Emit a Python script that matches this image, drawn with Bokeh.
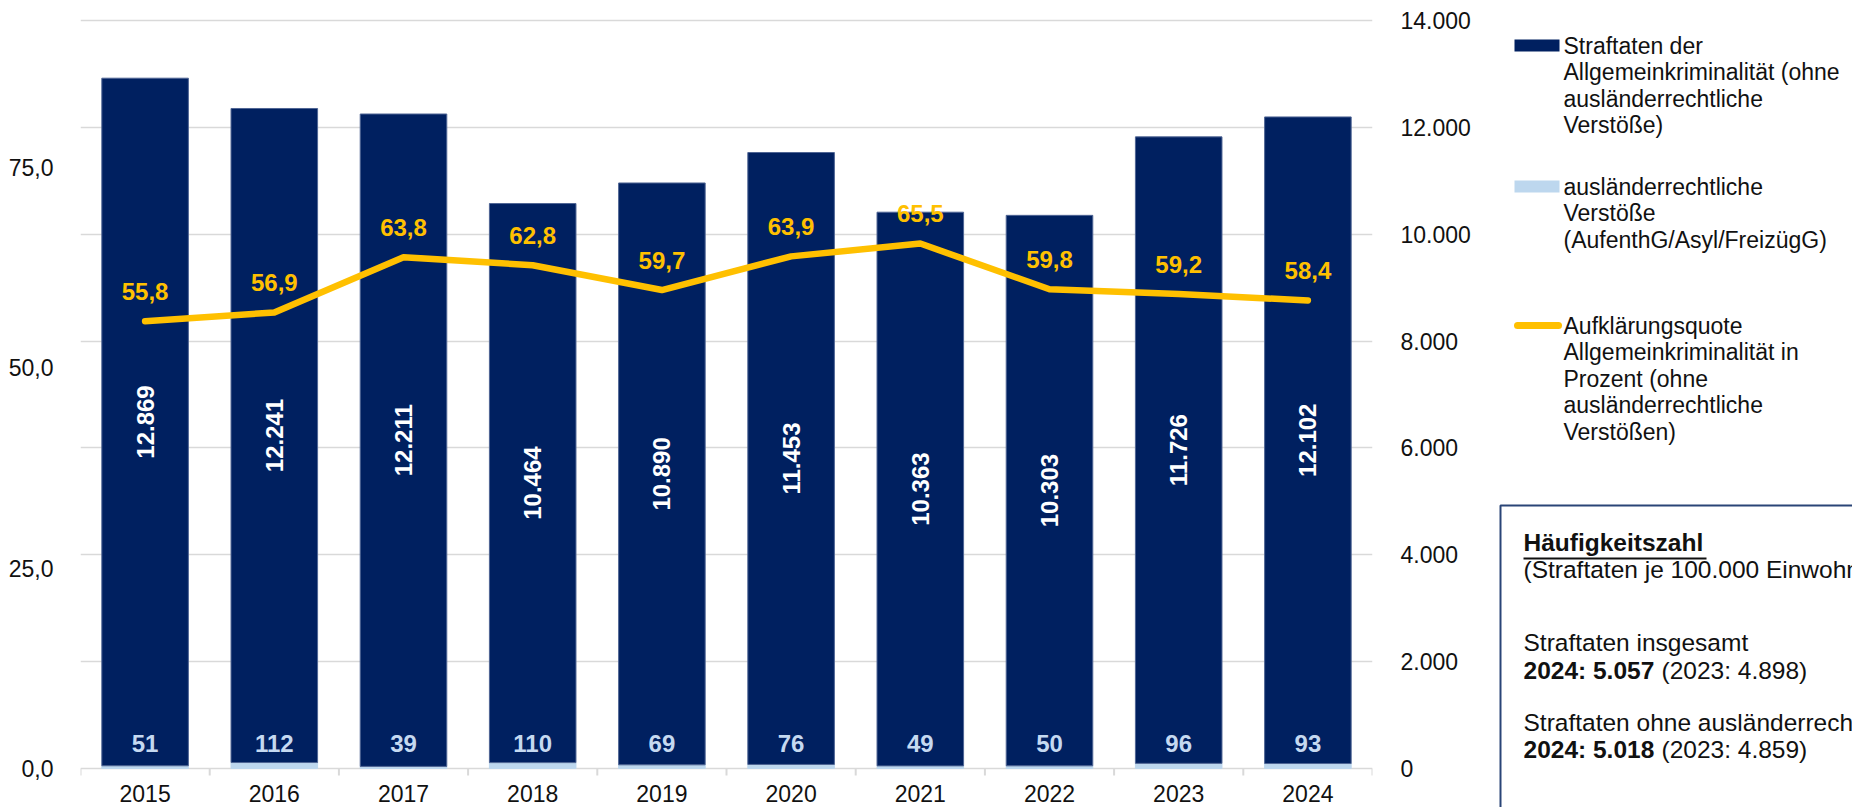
import math
from bokeh.plotting import figure
from bokeh.models import Range1d, LinearAxis, FixedTicker, ColumnDataSource
from bokeh.layouts import row
from bokeh.embed import file_html
from bokeh.resources import INLINE
from bokeh.core.properties import value

# ---------------- data ----------------
years = [2015, 2016, 2017, 2018, 2019, 2020, 2021, 2022, 2023, 2024]
straftaten = [12869, 12241, 12211, 10464, 10890, 11453, 10363, 10303, 11726, 12102]
auslaender = [51, 112, 39, 110, 69, 76, 49, 50, 96, 93]
quote = [55.8, 56.9, 63.8, 62.8, 59.7, 63.9, 65.5, 59.8, 59.2, 58.4]

pct_ticks = [0, 25, 50, 75]
count_ticks = [0, 2000, 4000, 6000, 8000, 10000, 12000, 14000]
count_max = 14000
pct_max = 93.33

legend_1 = ["Straftaten der", "Allgemeinkriminalität (ohne", "ausländerrechtliche", "Verstöße)"]
legend_2 = ["ausländerrechtliche", "Verstöße", "(AufenthG/Asyl/FreizügG)"]
legend_3 = ["Aufklärungsquote", "Allgemeinkriminalität in", "Prozent (ohne",
            "ausländerrechtliche", "Verstößen)"]

box_title = "Häufigkeitszahl"
box_sub = "(Straftaten je 100.000 Einwohner)"
box_l1 = "Straftaten insgesamt"
box_l1_bold = "2024: 5.057"
box_l1_rest = "(2023: 4.898)"
box_l2 = "Straftaten ohne ausländerrechtliche Verstöße"
box_l2_bold = "2024: 5.018"
box_l2_rest = "(2023: 4.859)"

# ---------------- style / layout ----------------
FONT = "Liberation Sans"
NAVY = "#002060"
LIGHT = "#BDD7EE"
LIGHT_TXT = "#C5D9F1"
GOLD = "#FFC000"
GRID = "#D9D9D9"
TXT = "#111111"

W_TOTAL, H_TOTAL = 1852, 807
W1 = 1478                 # chart canvas width
W2 = W_TOTAL - W1         # legend canvas width
FRAME_LEFT, FRAME_RIGHT = 80, 1372
PLOT_TOP, ZERO_Y = 20, 768  # pixel rows of the top gridline and of the value 0

px_per_pct = (ZERO_Y - PLOT_TOP) / pct_max
px_per_cnt = (ZERO_Y - PLOT_TOP) / count_max
pct_range = Range1d(-(H_TOTAL - ZERO_Y) / px_per_pct, pct_max + PLOT_TOP / px_per_pct)
cnt_range = Range1d(-(H_TOTAL - ZERO_Y) / px_per_cnt, count_max + PLOT_TOP / px_per_cnt)


def de_int(v):
    return f"{v:,}".replace(",", ".")


def de_dec(v):
    return f"{v:.1f}".replace(".", ",")


src = ColumnDataSource(dict(
    year=years,
    straf=straftaten,
    aus=auslaender,
    quote=quote,
    straf_mid=[a + s / 2 for a, s in zip(auslaender, straftaten)],
    straf_lbl=[de_int(v) for v in straftaten],
    aus_lbl=[str(v) for v in auslaender],
    quote_lbl=[de_dec(v) for v in quote],
    year_lbl=[str(y) for y in years],
))

bounds = [y - 0.5 for y in years] + [years[-1] + 0.5]

p = figure(width=W1, height=H_TOTAL, title=None,
           x_range=Range1d(years[0] - 0.5, years[-1] + 0.5),
           y_range=pct_range, x_axis_location=None,
           output_backend="svg", toolbar_location=None,
           min_border_left=FRAME_LEFT, min_border_right=W1 - FRAME_RIGHT,
           min_border_top=0, min_border_bottom=0)
p.outline_line_color = None
p.background_fill_color = "white"
p.extra_y_ranges = {"count": cnt_range}

# horizontal grid follows the right (count) axis
for gx in p.xgrid:
    gx.visible = False
g = p.ygrid[0]
g.ticker = FixedTicker(ticks=count_ticks)
g.y_range_name = "count"
g.grid_line_color = GRID
g.grid_line_width = 1.6

# category boundary tick marks below the axis
tick_len = 7 / px_per_cnt
p.segment(x0=bounds, y0=[0] * len(bounds), x1=bounds, y1=[-tick_len] * len(bounds),
          y_range_name="count", line_color=GRID, line_width=2)

# stacked bars
p.vbar_stack(["aus", "straf"], x="year", width=0.67, source=src,
             y_range_name="count",
             fill_color=[LIGHT, NAVY], line_color=[LIGHT, "#4F6594"], line_width=1)

# clearance-rate line
p.line("year", "quote", source=src, line_color=GOLD, line_width=6.5,
       line_cap="round", line_join="round")

# value labels
p.text(x="year", y="straf_mid", text="straf_lbl", source=src, y_range_name="count",
       angle=math.pi / 2, text_align="center", text_baseline="middle",
       text_color="white", text_font=value(FONT), text_font_style="bold",
       text_font_size="24px")
p.text(x="year", y=0, text="aus_lbl", source=src, y_range_name="count",
       y_offset=-25, text_align="center", text_baseline="middle",
       text_color=LIGHT_TXT, text_font=value(FONT), text_font_style="bold",
       text_font_size="24px")
p.text(x="year", y="quote", text="quote_lbl", source=src,
       y_offset=-30, text_align="center", text_baseline="middle",
       text_color=GOLD, text_font=value(FONT), text_font_style="bold",
       text_font_size="24px")

# category (year) labels under the axis
p.text(x="year", y=0, text="year_lbl", source=src, y_range_name="count",
       y_offset=25, text_align="center", text_baseline="middle",
       text_color=TXT, text_font=value(FONT), text_font_size="23px")

# left axis (percent)
ya = p.left[0]
ya.ticker = FixedTicker(ticks=pct_ticks)
ya.major_label_overrides = {t: de_dec(t) for t in pct_ticks}
ya.axis_line_color = None
ya.major_tick_line_color = None
ya.minor_tick_line_color = None
ya.major_label_standoff = 21
ya.major_label_text_font = FONT
ya.major_label_text_font_size = "23px"
ya.major_label_text_color = TXT

# right axis (counts)
ra = LinearAxis(y_range_name="count", ticker=FixedTicker(ticks=count_ticks))
ra.major_label_overrides = {t: de_int(t) for t in count_ticks}
ra.axis_line_color = None
ra.major_tick_line_color = None
ra.minor_tick_line_color = None
ra.major_label_standoff = 22
ra.major_label_text_font = FONT
ra.major_label_text_font_size = "23px"
ra.major_label_text_color = TXT
p.add_layout(ra, "right")

# ---------------- legend + info box (pixel-space figure) ----------------
q = figure(width=W2, height=H_TOTAL, title=None,
           x_range=Range1d(0, W2), y_range=Range1d(H_TOTAL, 0),
           x_axis_location=None, y_axis_location=None,
           output_backend="svg", toolbar_location=None, min_border=0)
q.outline_line_color = None
q.background_fill_color = "white"
for gr in q.grid:
    gr.visible = False

LINE_H = 26.6
TX = 85


def legend_text(lines, y0):
    q.text(x=[TX] * len(lines), y=[y0 + i * LINE_H for i in range(len(lines))], text=lines,
           text_align="left", text_baseline="middle", text_color=TXT,
           text_font=value(FONT), text_font_size="23px")


q.quad(left=[36], right=[81], top=[39], bottom=[51], fill_color=NAVY, line_color=None)
legend_text(legend_1, 45)
q.quad(left=[36], right=[81], top=[180], bottom=[192], fill_color=LIGHT, line_color=None)
legend_text(legend_2, 186)
q.segment(x0=[39], y0=[325], x1=[80], y1=[325], line_color=GOLD, line_width=7, line_cap="round")
legend_text(legend_3, 325)

# info box (continues past the canvas edges)
q.quad(left=[22], right=[W2 + 20], top=[505], bottom=[H_TOTAL + 20],
       fill_color="white", line_color="#2A4577", line_width=2)

BX = 45
BFS = "24.5px"


def box_text(x, y, t, bold=False):
    q.text(x=[x], y=[y], text=[t], text_align="left", text_baseline="middle",
           text_color=TXT, text_font=value(FONT), text_font_size=BFS,
           text_font_style="bold" if bold else "normal")


box_text(BX, 542, box_title, bold=True)
q.segment(x0=[BX], y0=[558], x1=[BX + 183], y1=[558], line_color=TXT, line_width=2)
box_text(BX, 569, box_sub)
box_text(BX, 642, box_l1)
box_text(BX, 670, box_l1_bold, bold=True)
box_text(BX + 138, 670, box_l1_rest)
box_text(BX, 722, box_l2)
box_text(BX, 749, box_l2_bold, bold=True)
box_text(BX + 138, 749, box_l2_rest)

layout = row(p, q)
open("out.html", "w").write(file_html(layout, INLINE))
